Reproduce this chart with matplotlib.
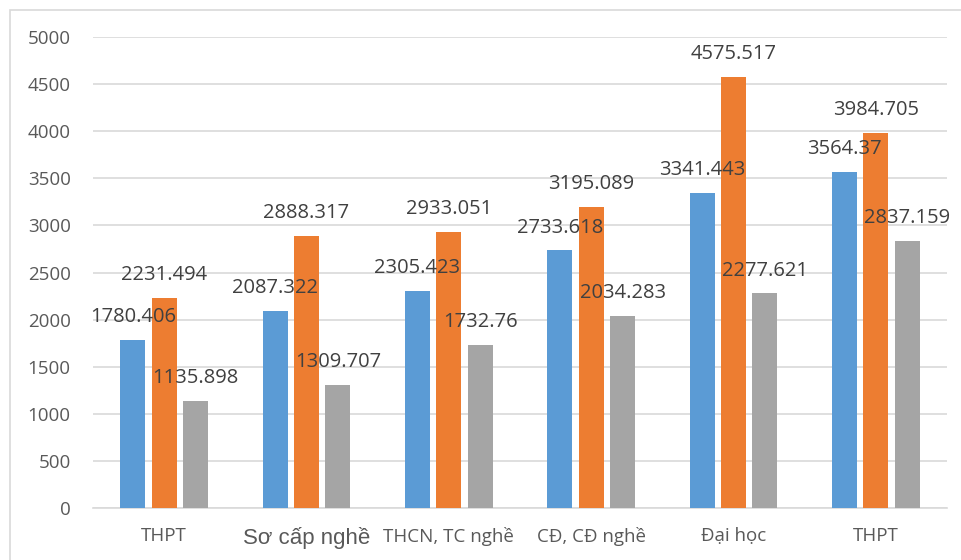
import matplotlib
matplotlib.use('Agg')
import matplotlib.pyplot as plt
import numpy as np
from matplotlib.patches import Rectangle

plt.rcParams['font.family'] = ['Open Sans', 'DejaVu Sans']

# Categories and series values
categories = ['THPT', 'Sơ cấp nghề', 'THCN, TC nghề', 'CĐ, CĐ nghề', 'Đại học', 'THPT']
series_1 = [1780.406, 2087.322, 2305.423, 2733.618, 3341.443, 3564.37]
series_2 = [2231.494, 2888.317, 2933.051, 3195.089, 4575.517, 3984.705]
series_3 = [1135.898, 1309.707, 1732.76, 2034.283, 2277.621, 2837.159]
colors = ['#5B9BD5', '#ED7D31', '#A5A5A5']
y_ticks = [0, 500, 1000, 1500, 2000, 2500, 3000, 3500, 4000, 4500, 5000]

fig = plt.figure(figsize=(9.61, 5.6), dpi=100)
ax = fig.add_axes([93 / 961, 1 - 508 / 560, 854 / 961, 471 / 560])

# Light border round the whole chart
fig.patches.append(Rectangle((9.5 / 961, -0.1), 1.1, 1 - 9.5 / 560 + 0.1,
                             transform=fig.transFigure, fill=False,
                             edgecolor='#D9D9D9', linewidth=1.2))

x = np.arange(len(categories))
step = 0.221
width = 0.176
for i, (vals, col) in enumerate(zip([series_1, series_2, series_3], colors)):
    pos = x + (i - 1) * step
    ax.bar(pos, vals, width=width, color=col, zorder=3)
    for px, v in zip(pos, vals):
        ax.annotate(f'{v}', (px, v), xytext=(0, 16.5), textcoords='offset points',
                    ha='center', va='center', fontsize=14.5, color='#404040', zorder=4)

ax.set_xlim(-0.5, len(categories) - 0.5)
ax.set_ylim(0, 5000)
ax.set_yticks(y_ticks)
ax.set_xticks(x)
ax.set_xticklabels(categories)
for lbl in ax.get_xticklabels():
    lbl.set_fontsize(13.5)
    lbl.set_color('#595959')
ax.get_xticklabels()[1].set_fontsize(16)
ax.get_xticklabels()[1].set_family(['Liberation Sans', 'DejaVu Sans'])
ax.tick_params(axis='y', labelsize=13.5, colors='#595959', length=0, pad=16)
ax.tick_params(axis='x', length=0, pad=14)
ax.grid(axis='y', color='#D9D9D9', linewidth=1.2, zorder=0)
for side in ['top', 'right', 'left']:
    ax.spines[side].set_visible(False)
ax.spines['bottom'].set_color('#D9D9D9')
ax.spines['bottom'].set_linewidth(1.2)

fig.savefig('out.png', dpi=100)
